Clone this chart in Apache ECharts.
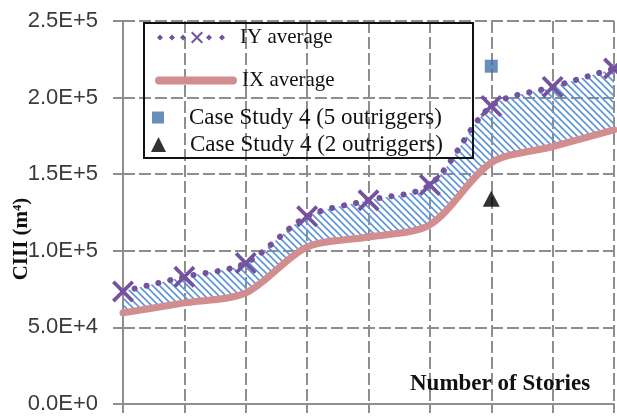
<!DOCTYPE html>
<html><head><meta charset="utf-8">
<script src="https://cdn.jsdelivr.net/npm/echarts@6/dist/echarts.min.js"></script>
<style>html,body{margin:0;padding:0;background:#fff}#c{width:617px;height:417px}</style>
</head><body><div id="c"></div>
<script>
// Data
const categories = ['1', '2', '3', '4', '5', '6', '7', '8', '9'];
const iyAverage = [73500, 83000, 92000, 122500, 133000, 143000, 194500, 207000, 219000];
const ixAverage = [59500, 66000, 72500, 102500, 109000, 117000, 157500, 168000, 179000];
const caseStudy5 = [['7', 220500]];
const caseStudy2 = [['7', 134000]];
const yTicks = { min: 0, max: 250000, interval: 50000 };

const bandDiff = iyAverage.map((v, i) => v - ixAverage[i]);

// hatch pattern
const pc = document.createElement('canvas');
pc.width = 7; pc.height = 7;
const pctx = pc.getContext('2d');
pctx.strokeStyle = '#5d95d6';
pctx.lineWidth = 1.6;
pctx.beginPath();
pctx.moveTo(-1, -1); pctx.lineTo(8, 8);
pctx.moveTo(-1, 6); pctx.lineTo(1, 8);
pctx.moveTo(6, -1); pctx.lineTo(8, 1);
pctx.stroke();

const gridGray = '#8e8e8e';
const X_PATH = 'path://M0,1.2L1.2,0L5,3.8L8.8,0L10,1.2L6.2,5L10,8.8L8.8,10L5,6.2L1.2,10L0,8.8L3.8,5Z';
// legend icon for IY: diamonds with an X in the middle
function diamond(cx) { return 'M' + (cx - 3) + ',7L' + cx + ',4L' + (cx + 3) + ',7L' + cx + ',10Z'; }
const IY_ICON = 'path://' + diamond(5) + diamond(17) + diamond(28) +
  'M36,2.44L37.44,1L42,5.56L46.56,1L48,2.44L43.44,7L48,11.56L46.56,13L42,8.44L37.44,13L36,11.56L40.56,7Z' +
  diamond(54) + diamond(67);
const IX_ICON = 'path://M4,0L78,0A4,4 0 0 1 78,8L4,8A4,4 0 0 1 4,0Z';
const SQ_ICON = 'path://M0,0L1,0L1,1L0,1Z';
const TRI_ICON = 'path://M0.5,0L1,1L0,1Z';
const SMOOTH = 0.3;
const serif = '"Liberation Serif","Times New Roman",serif';

const chart = echarts.init(document.getElementById('c'), null, { renderer: 'canvas' });
chart.setOption({
  animation: false,
  grid: { left: 123, right: 3, top: 21, bottom: 13, containLabel: false, outerBoundsMode: 'none' },
  xAxis: {
    type: 'category', data: categories, boundaryGap: false,
    axisLine: { show: true, lineStyle: { color: gridGray, width: 2 } },
    axisTick: { show: true, length: 9, lineStyle: { color: gridGray, width: 2 } },
    axisLabel: { show: false },
    splitLine: { show: true, lineStyle: { color: gridGray, width: 2, type: [12, 4] } }
  },
  yAxis: {
    type: 'value', min: yTicks.min, max: yTicks.max, interval: yTicks.interval,
    name: 'CIII (m⁴)', nameLocation: 'middle', nameGap: 91, nameMoveOverlap: false,
    nameTextStyle: { fontFamily: serif, fontWeight: 'bold', fontSize: 21, color: '#111', padding: [0, 53, 0, 0] },
    axisLine: { show: true, lineStyle: { color: gridGray, width: 2 } },
    axisTick: { show: true, length: 10, lineStyle: { color: gridGray, width: 2 } },
    axisLabel: {
      margin: 25, fontFamily: '"Liberation Sans", Arial, sans-serif', fontSize: 22, color: '#3a3a3a',
      formatter: v => v.toExponential(1).toUpperCase()
    },
    splitLine: { show: true, lineStyle: { color: gridGray, width: 2, type: [12, 4] } }
  },
  legend: [
    {
      data: [{ name: 'IY average', icon: IY_ICON }], left: 157, top: 27, padding: 0,
      itemWidth: 68, itemHeight: 12, selectedMode: false,
      textStyle: { fontFamily: serif, fontSize: 21, color: '#111', lineHeight: 20, padding: [0, 0, 0, 10] }
    },
    {
      data: [{ name: 'IX average', icon: IX_ICON }], left: 155, top: 70, padding: 0,
      itemWidth: 82, itemHeight: 8, selectedMode: false, symbolKeepAspect: false,
      textStyle: { fontFamily: serif, fontSize: 21, color: '#111', lineHeight: 20 }
    },
    {
      data: [{ name: 'Case Study 4 (5 outriggers)', icon: SQ_ICON }], left: 152, top: 106, padding: 0,
      itemWidth: 52, itemHeight: 12, selectedMode: false,
      textStyle: { fontFamily: serif, fontSize: 23, color: '#111', lineHeight: 20 }
    },
    {
      data: [{ name: 'Case Study 4 (2 outriggers)', icon: TRI_ICON }], left: 151, top: 133, padding: 0,
      itemWidth: 53, itemHeight: 15, selectedMode: false,
      textStyle: { fontFamily: serif, fontSize: 23, color: '#111', lineHeight: 20 }
    }
  ],
  graphic: [
    {
      type: 'rect', left: 143, top: 22, z: 100,
      shape: { width: 329, height: 135 },
      style: { fill: 'transparent', stroke: '#111', lineWidth: 2 }
    },
    {
      type: 'text', left: 410, top: 373, z: 100,
      style: { text: 'Number of Stories', fontFamily: serif, fontWeight: 'bold', fontSize: 23, fill: '#111' }
    }
  ],
  series: [
    {
      name: 'base', type: 'line', stack: 'band', data: ixAverage, smooth: SMOOTH,
      symbol: 'none', lineStyle: { opacity: 0 }, silent: true, z: 1
    },
    {
      name: 'band', type: 'line', stack: 'band', data: bandDiff, smooth: SMOOTH,
      symbol: 'none', lineStyle: { opacity: 0 }, silent: true, z: 1,
      areaStyle: { color: { image: pc, repeat: 'repeat' }, opacity: 1 }
    },
    {
      name: 'IX average', type: 'line', data: ixAverage, smooth: SMOOTH,
      symbol: 'none', z: 3,
      lineStyle: { color: '#d28e8e', width: 7, cap: 'round' },
      itemStyle: { color: '#d28e8e' }
    },
    {
      name: 'IY average', type: 'line', data: iyAverage, smooth: SMOOTH,
      symbol: X_PATH, symbolSize: 22, z: 4,
      lineStyle: { color: '#7552a0', width: 6, type: [0.1, 12], cap: 'round' },
      itemStyle: { color: '#7552a0' }
    },
    {
      name: 'Case Study 4 (5 outriggers)', type: 'scatter', data: caseStudy5,
      symbol: 'rect', symbolSize: 13, z: 5, itemStyle: { color: '#4472a9' }
    },
    {
      name: 'Case Study 4 (2 outriggers)', type: 'scatter', data: caseStudy2,
      symbol: 'triangle', symbolSize: [17, 16], z: 5, itemStyle: { color: '#000' }
    }
  ]
});
</script></body></html>
